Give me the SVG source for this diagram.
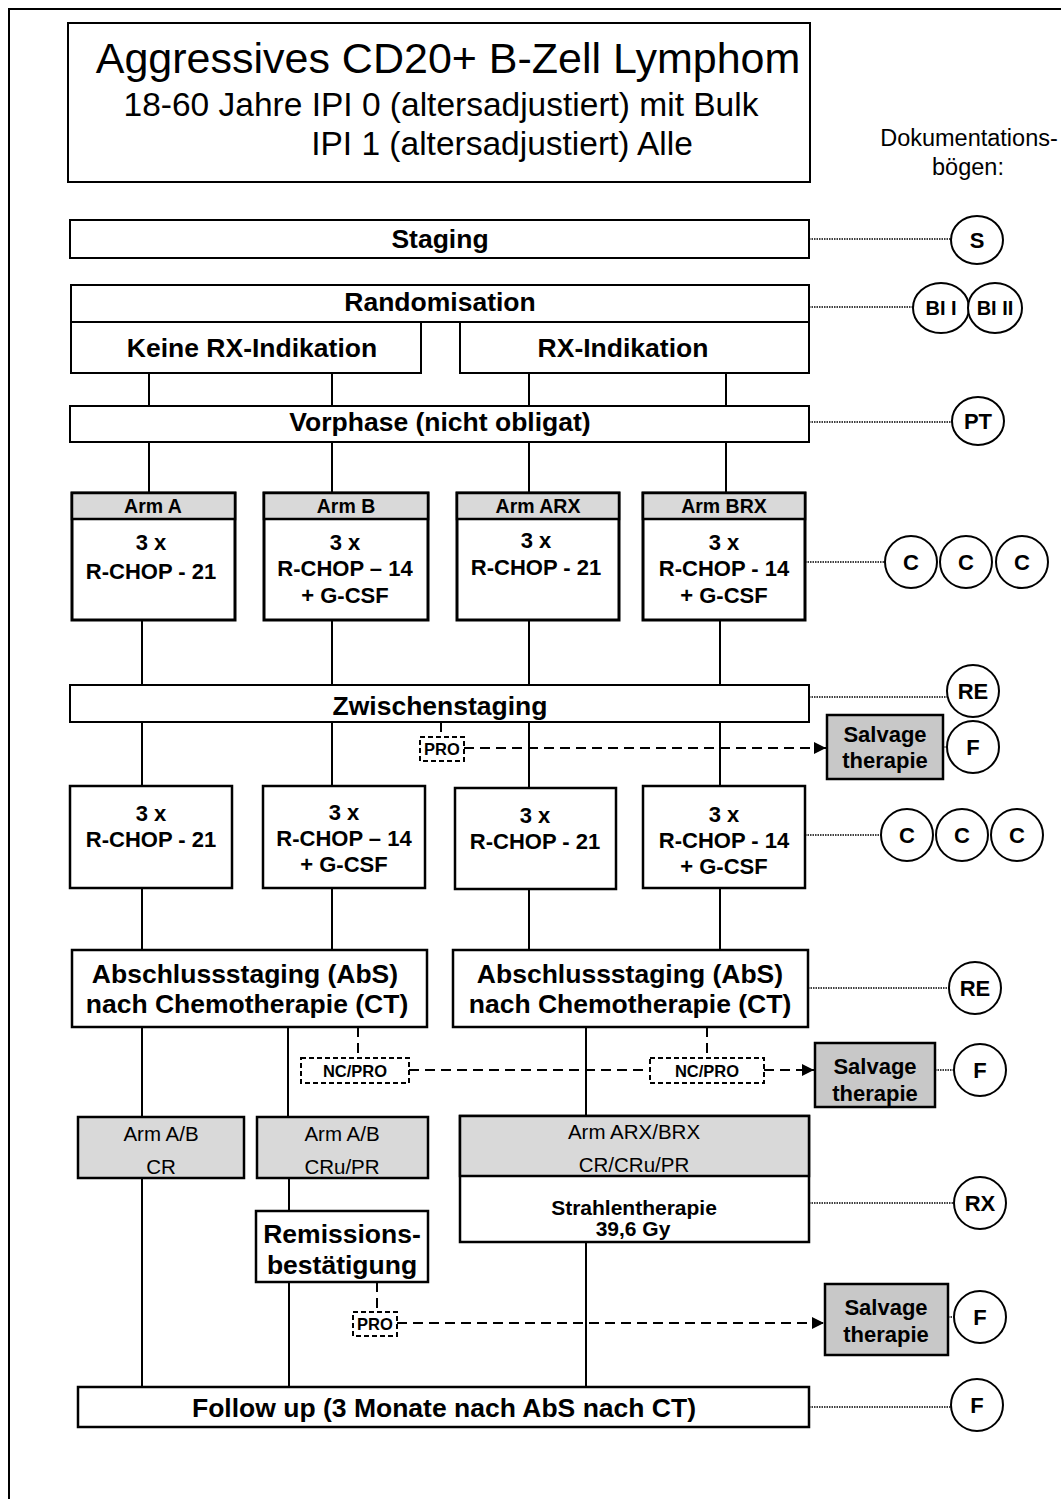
<svg xmlns="http://www.w3.org/2000/svg" width="1061" height="1499" viewBox="0 0 1061 1499">
<style>
.b{fill:#fff;stroke:#000;stroke-width:2}
.t{fill:#fff;stroke:#000;stroke-width:3}
.g{fill:#d9d9d9;stroke:#000;stroke-width:2}
.sv{fill:#c8c8c8;stroke:#000;stroke-width:2.5}
.pro{fill:#fff;stroke:#000;stroke-width:2;stroke-dasharray:5,3}
.c{fill:#fff;stroke:#000;stroke-width:2}
.ln{stroke:#000;stroke-width:2;fill:none}
.dl{stroke:#000;stroke-width:2;fill:none;stroke-dasharray:10,6}
.dot{stroke:#000;stroke-width:1.5;fill:none;stroke-dasharray:1.5,1}
text{font-family:"Liberation Sans",Arial,sans-serif;text-anchor:middle;dominant-baseline:central;fill:#000}
.L{font-size:26.5px;font-weight:bold}
.M{font-size:22px;font-weight:bold}
.H{font-size:19.5px;font-weight:bold}
.R{font-size:20.5px}
.P{font-size:16.5px;font-weight:bold}
.C{font-size:22px;font-weight:bold}
</style>
<defs>
<marker id="ah" markerUnits="userSpaceOnUse" markerWidth="13" markerHeight="12" refX="12" refY="6" orient="auto">
<path d="M0,0 L12,6 L0,12 z" fill="#000"/>
</marker>
</defs>
<rect x="9" y="9" width="1070" height="1500" fill="none" stroke="#000" stroke-width="2"/>

<g id="connectors">
<line class="ln" x1="149" y1="373" x2="149" y2="406"/>
<line class="ln" x1="332" y1="373" x2="332" y2="406"/>
<line class="ln" x1="529" y1="373" x2="529" y2="406"/>
<line class="ln" x1="726" y1="373" x2="726" y2="406"/>
<line class="ln" x1="149" y1="442" x2="149" y2="493"/>
<line class="ln" x1="332" y1="442" x2="332" y2="493"/>
<line class="ln" x1="529" y1="442" x2="529" y2="493"/>
<line class="ln" x1="726" y1="442" x2="726" y2="493"/>
<line class="ln" x1="142" y1="620" x2="142" y2="685"/>
<line class="ln" x1="332" y1="620" x2="332" y2="685"/>
<line class="ln" x1="529" y1="620" x2="529" y2="685"/>
<line class="ln" x1="720" y1="620" x2="720" y2="685"/>
<line class="ln" x1="142" y1="722" x2="142" y2="786"/>
<line class="ln" x1="332" y1="722" x2="332" y2="786"/>
<line class="ln" x1="529" y1="722" x2="529" y2="788"/>
<line class="ln" x1="720" y1="722" x2="720" y2="786"/>
<line class="ln" x1="142" y1="888" x2="142" y2="950"/>
<line class="ln" x1="332" y1="888" x2="332" y2="950"/>
<line class="ln" x1="529" y1="889" x2="529" y2="950"/>
<line class="ln" x1="720" y1="888" x2="720" y2="950"/>
<line class="ln" x1="142" y1="1027" x2="142" y2="1117"/>
<line class="ln" x1="288" y1="1027" x2="288" y2="1117"/>
<line class="ln" x1="586" y1="1027" x2="586" y2="1116"/>
<line class="ln" x1="142" y1="1178" x2="142" y2="1387"/>
<line class="ln" x1="289" y1="1178" x2="289" y2="1211"/>
<line class="ln" x1="289" y1="1282" x2="289" y2="1387"/>
<line class="ln" x1="586" y1="1242" x2="586" y2="1387"/>
<line class="dl" x1="441" y1="722" x2="441" y2="737"/>
<line class="dl" x1="464" y1="748" x2="826" y2="748" marker-end="url(#ah)"/>
<line class="dl" x1="358" y1="1027" x2="358" y2="1058"/>
<line class="dl" x1="707" y1="1027" x2="707" y2="1058"/>
<line class="dl" x1="409" y1="1070" x2="650" y2="1070"/>
<line class="dl" x1="764" y1="1070" x2="814" y2="1070" marker-end="url(#ah)"/>
<line class="dl" x1="377" y1="1282" x2="377" y2="1312"/>
<line class="dl" x1="397" y1="1323" x2="824" y2="1323" marker-end="url(#ah)"/>
<line class="dot" x1="809" y1="239" x2="951" y2="239"/>
<line class="dot" x1="809" y1="307" x2="914" y2="307"/>
<line class="dot" x1="809" y1="422" x2="952" y2="422"/>
<line class="dot" x1="805" y1="562" x2="885" y2="562"/>
<line class="dot" x1="809" y1="697" x2="948" y2="697"/>
<line class="dot" x1="943" y1="747" x2="947" y2="747"/>
<line class="dot" x1="805" y1="835" x2="881" y2="835"/>
<line class="dot" x1="808" y1="988" x2="949" y2="988"/>
<line class="dot" x1="935" y1="1070" x2="954" y2="1070"/>
<line class="dot" x1="809" y1="1203" x2="954" y2="1203"/>
<line class="dot" x1="948" y1="1317" x2="954" y2="1317"/>
<line class="dot" x1="809" y1="1407" x2="951" y2="1407"/>
</g>

<g id="title">
<rect class="b" x="68" y="23" width="742" height="159"/>
<text x="448" y="58" style="font-size:43px">Aggressives CD20+ B-Zell Lymphom</text>
<text x="441" y="104" style="font-size:33.5px">18-60 Jahre IPI 0 (altersadjustiert) mit Bulk</text>
<text x="502" y="143" style="font-size:33.5px">IPI 1 (altersadjustiert) Alle</text>
</g>
<g id="doku">
<text x="969" y="138" style="font-size:23.5px">Dokumentations-</text>
<text x="968" y="167" style="font-size:23.5px">bögen:</text>
</g>

<g id="staging"><rect class="b" x="70" y="220" width="739" height="38"/><text class="L" x="440" y="239">Staging</text></g>
<g id="randomisation"><rect class="b" x="71" y="285" width="738" height="37"/><text class="L" x="440" y="302">Randomisation</text></g>
<g id="keine-rx"><rect class="b" x="71" y="322" width="350" height="51"/><text class="L" x="252" y="348">Keine RX-Indikation</text></g>
<g id="rx-ind"><rect class="b" x="460" y="322" width="349" height="51"/><text class="L" x="623" y="348">RX-Indikation</text></g>
<g id="vorphase"><rect class="b" x="70" y="406" width="739" height="36"/><text class="L" x="440" y="422">Vorphase (nicht obligat)</text></g>

<g id="arm-a"><rect class="t" x="72" y="493" width="163" height="127"/><rect class="g" x="72" y="493" width="163" height="26" style="stroke-width:2.5"/><text class="H" x="153" y="506">Arm A</text><text class="M" x="151" y="542">3 x</text><text class="M" x="151" y="571">R-CHOP - 21</text></g>
<g id="arm-b"><rect class="t" x="264" y="493" width="164" height="127"/><rect class="g" x="264" y="493" width="164" height="26" style="stroke-width:2.5"/><text class="H" x="346" y="506">Arm B</text><text class="M" x="345" y="542">3 x</text><text class="M" x="345" y="568">R-CHOP – 14</text><text class="M" x="345" y="595">+ G-CSF</text></g>
<g id="arm-arx"><rect class="t" x="457" y="493" width="162" height="127"/><rect class="g" x="457" y="493" width="162" height="26" style="stroke-width:2.5"/><text class="H" x="538" y="506">Arm ARX</text><text class="M" x="536" y="540">3 x</text><text class="M" x="536" y="567">R-CHOP - 21</text></g>
<g id="arm-brx"><rect class="t" x="643" y="493" width="162" height="127"/><rect class="g" x="643" y="493" width="162" height="26" style="stroke-width:2.5"/><text class="H" x="724" y="506">Arm BRX</text><text class="M" x="724" y="542">3 x</text><text class="M" x="724" y="568">R-CHOP - 14</text><text class="M" x="724" y="595">+ G-CSF</text></g>

<g id="zwischenstaging"><rect class="b" x="70" y="685" width="739" height="37"/><text class="L" x="440" y="706">Zwischenstaging</text></g>
<g id="pro1"><rect class="pro" x="420" y="737" width="44" height="24"/><text class="P" x="442" y="749">PRO</text></g>
<g id="salvage1"><rect class="sv" x="827" y="715" width="116" height="64"/><text class="M" x="885" y="734">Salvage</text><text class="M" x="885" y="760">therapie</text></g>

<g id="c2-a"><rect class="b" x="70" y="786" width="162" height="102" style="stroke-width:2.5"/><text class="M" x="151" y="813">3 x</text><text class="M" x="151" y="839">R-CHOP - 21</text></g>
<g id="c2-b"><rect class="b" x="263" y="786" width="162" height="102" style="stroke-width:2.5"/><text class="M" x="344" y="812">3 x</text><text class="M" x="344" y="838">R-CHOP – 14</text><text class="M" x="344" y="864">+ G-CSF</text></g>
<g id="c2-arx"><rect class="b" x="455" y="788" width="161" height="101" style="stroke-width:2.5"/><text class="M" x="535" y="815">3 x</text><text class="M" x="535" y="841">R-CHOP - 21</text></g>
<g id="c2-brx"><rect class="b" x="643" y="786" width="162" height="102" style="stroke-width:2.5"/><text class="M" x="724" y="814">3 x</text><text class="M" x="724" y="840">R-CHOP - 14</text><text class="M" x="724" y="866">+ G-CSF</text></g>

<g id="abs-left"><rect class="b" x="72" y="950" width="355" height="77" style="stroke-width:2.5"/><text class="L" x="245" y="974">Abschlussstaging (AbS)</text><text class="L" x="247" y="1004">nach Chemotherapie (CT)</text></g>
<g id="abs-right"><rect class="b" x="453" y="950" width="355" height="77" style="stroke-width:2.5"/><text class="L" x="630" y="974">Abschlussstaging (AbS)</text><text class="L" x="630" y="1004">nach Chemotherapie (CT)</text></g>

<g id="ncpro1"><rect class="pro" x="301" y="1058" width="108" height="25"/><text class="P" x="355" y="1071">NC/PRO</text></g>
<g id="ncpro2"><rect class="pro" x="650" y="1058" width="114" height="25"/><text class="P" x="707" y="1071">NC/PRO</text></g>
<g id="salvage2"><rect class="sv" x="815" y="1043" width="120" height="64"/><text class="M" x="875" y="1066">Salvage</text><text class="M" x="875" y="1093">therapie</text></g>

<g id="ab-cr"><rect class="g" x="78" y="1117" width="166" height="61" style="stroke-width:2.5"/><text class="R" x="161" y="1133">Arm A/B</text><text class="R" x="161" y="1166">CR</text></g>
<g id="ab-cru"><rect class="g" x="257" y="1117" width="171" height="61" style="stroke-width:2.5"/><text class="R" x="342" y="1133">Arm A/B</text><text class="R" x="342" y="1166">CRu/PR</text></g>
<g id="arx-brx"><rect class="b" x="460" y="1116" width="349" height="126" style="stroke-width:2.5"/><rect class="g" x="460" y="1116" width="349" height="60" style="stroke-width:2.5"/><text class="R" x="634" y="1131">Arm ARX/BRX</text><text class="R" x="634" y="1164">CR/CRu/PR</text><text style="font-size:21px;font-weight:bold" x="634" y="1207">Strahlentherapie</text><text style="font-size:21px;font-weight:bold" x="633" y="1228">39,6 Gy</text></g>

<g id="remission"><rect class="b" x="256" y="1211" width="172" height="71" style="stroke-width:2.5"/><text class="L" x="342" y="1234">Remissions-</text><text class="L" x="342" y="1265">bestätigung</text></g>
<g id="pro2"><rect class="pro" x="353" y="1312" width="44" height="24"/><text class="P" x="375" y="1324">PRO</text></g>
<g id="salvage3"><rect class="sv" x="825" y="1284" width="123" height="71"/><text class="M" x="886" y="1307">Salvage</text><text class="M" x="886" y="1334">therapie</text></g>

<g id="followup"><rect class="b" x="78" y="1387" width="731" height="40" style="stroke-width:2.5"/><text class="L" x="444" y="1408">Follow up (3 Monate nach AbS nach CT)</text></g>

<g id="circle-s"><ellipse class="c" cx="977" cy="240" rx="26" ry="24"/><text class="C" x="977" y="240">S</text></g>
<g id="circle-bi1"><ellipse class="c" cx="941" cy="308" rx="28" ry="25"/><text class="C" x="941" y="308" style="font-size:20px">BI I</text></g>
<g id="circle-bi2"><ellipse class="c" cx="995" cy="308" rx="27" ry="25"/><text class="C" x="995" y="308" style="font-size:20px">BI II</text></g>
<g id="circle-pt"><ellipse class="c" cx="978" cy="421" rx="26" ry="24"/><text class="C" x="978" y="421">PT</text></g>
<g id="circle-c1"><circle class="c" cx="911" cy="562" r="26"/><text class="C" x="911" y="562">C</text></g>
<g id="circle-c2"><circle class="c" cx="966" cy="562" r="26"/><text class="C" x="966" y="562">C</text></g>
<g id="circle-c3"><circle class="c" cx="1022" cy="562" r="26"/><text class="C" x="1022" y="562">C</text></g>
<g id="circle-re1"><circle class="c" cx="973" cy="691" r="26"/><text class="C" x="973" y="691">RE</text></g>
<g id="circle-f1"><circle class="c" cx="973" cy="747" r="26"/><text class="C" x="973" y="747">F</text></g>
<g id="circle-c4"><circle class="c" cx="907" cy="835" r="26"/><text class="C" x="907" y="835">C</text></g>
<g id="circle-c5"><circle class="c" cx="962" cy="835" r="26"/><text class="C" x="962" y="835">C</text></g>
<g id="circle-c6"><circle class="c" cx="1017" cy="835" r="26"/><text class="C" x="1017" y="835">C</text></g>
<g id="circle-re2"><circle class="c" cx="975" cy="988" r="26"/><text class="C" x="975" y="988">RE</text></g>
<g id="circle-f2"><circle class="c" cx="980" cy="1070" r="26"/><text class="C" x="980" y="1070">F</text></g>
<g id="circle-rx"><circle class="c" cx="980" cy="1203" r="26"/><text class="C" x="980" y="1203">RX</text></g>
<g id="circle-f3"><circle class="c" cx="980" cy="1317" r="26"/><text class="C" x="980" y="1317">F</text></g>
<g id="circle-f4"><circle class="c" cx="977" cy="1405" r="26"/><text class="C" x="977" y="1405">F</text></g>
</svg>
